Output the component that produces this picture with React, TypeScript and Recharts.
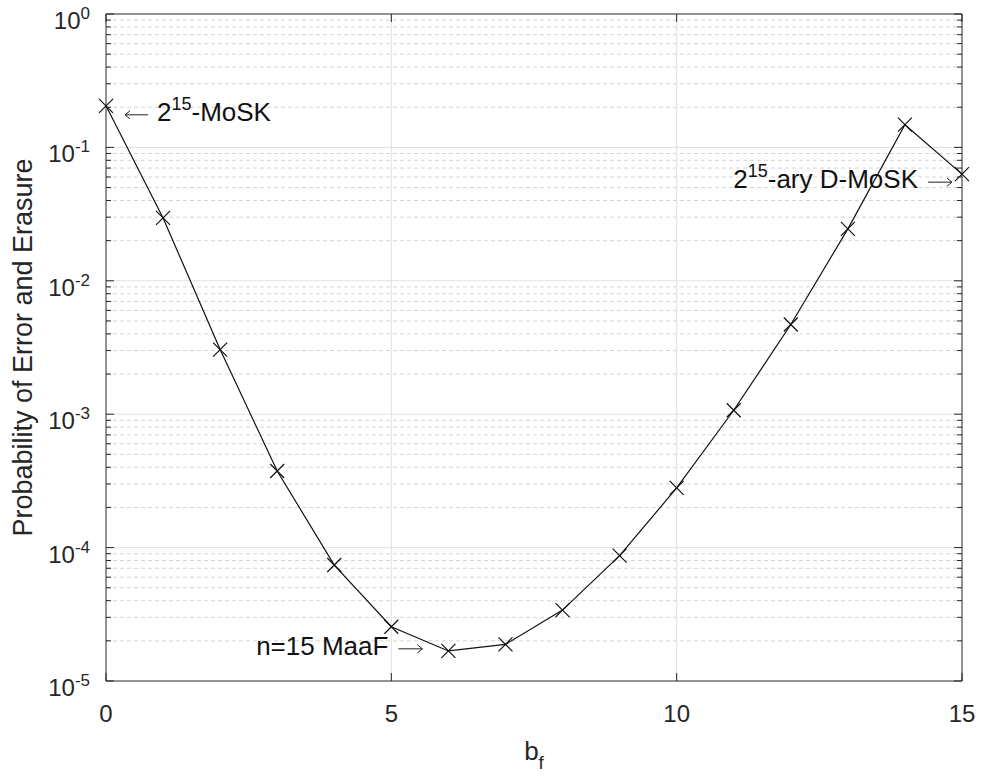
import React from 'react';
import { LineChart, Line, XAxis, YAxis, ReferenceLine, ReferenceDot } from 'recharts';

// b_f values and the probability of error and erasure
const bf = [0, 1, 2, 3, 4, 5, 6, 7, 8, 9, 10, 11, 12, 13, 14, 15];
const pErr = [0.205, 0.0296, 0.00305, 3.75e-4, 7.4e-5, 2.55e-5, 1.68e-5, 1.88e-5, 3.4e-5, 8.7e-5, 2.8e-4, 1.07e-3, 4.7e-3, 0.0245, 0.148, 0.063];

const xTicks = [0, 5, 10, 15];
const yMajor = [1, 1e-1, 1e-2, 1e-3, 1e-4, 1e-5];
const yMinor: number[] = [];
for (let k = -5; k < 0; k++) for (let m = 2; m <= 9; m++) yMinor.push(m * Math.pow(10, k));

const notes = [
  { x: 0, y: 0.205, text: '-MoSK', pre: '2', sup: '15', side: 'right' },
  { x: 15, y: 0.063, text: '-ary D-MoSK', pre: '2', sup: '15', side: 'left' },
  { x: 5.72, y: 2.0e-5, text: 'n=15 MaaF', pre: '', sup: '', side: 'left' },
];

const data = bf.map((b, i) => ({ bf: b, p: pErr[i] }));

const PL = 106, PR = 962, PT = 14, PB = 681;
const AX = '#262626';
const FONT = '"Liberation Sans", Arial, Helvetica, sans-serif';

const isMajor = (v: number) => Math.abs(Math.log10(v) - Math.round(Math.log10(v))) < 1e-9;

const YTick = (props: any) => {
  const { y, payload } = props;
  const v = payload.value;
  const major = isMajor(v);
  const len = major ? 8 : 5;
  return (
    <g>
      <line x1={PL} x2={PL + len} y1={y} y2={y} stroke={AX} strokeWidth={1} />
      <line x1={PR - len} x2={PR} y1={y} y2={y} stroke={AX} strokeWidth={1} />
      {major && (
        <text x={PL - 16} y={y + 15} textAnchor="end" fontFamily={FONT} fontSize={24} fill={AX}>
          10<tspan dy={-10} fontSize={17}>{String(Math.round(Math.log10(v)))}</tspan>
        </text>
      )}
    </g>
  );
};

const XTick = (props: any) => {
  const { x, payload } = props;
  return (
    <g>
      <line x1={x} x2={x} y1={PB} y2={PB - 8} stroke={AX} strokeWidth={1} />
      <line x1={x} x2={x} y1={PT} y2={PT + 8} stroke={AX} strokeWidth={1} />
      <text x={x} y={PB + 41} textAnchor="middle" fontFamily={FONT} fontSize={24} fill={AX}>{payload.value}</text>
    </g>
  );
};

const Cross = (props: any) => {
  const { cx, cy, index } = props;
  const s = 7;
  return (
    <path key={'c' + index} d={`M${cx - s},${cy - s}L${cx + s},${cy + s}M${cx - s},${cy + s}L${cx + s},${cy - s}`}
      stroke="#111" strokeWidth={1.2} fill="none" />
  );
};

const arrow = (x1: number, x2: number, y: number, headLeft: boolean) => {
  const hx = headLeft ? x1 : x2;
  const d = headLeft ? 5 : -5;
  return (
    <path d={`M${x1},${y}L${x2},${y}M${hx + d},${y - 4}L${hx},${y}L${hx + d},${y + 4}`}
      stroke="#222" strokeWidth={1} fill="none" />
  );
};

const Note = (n: typeof notes[number]) => (props: any) => {
  const { cx, cy } = props;
  if (n.side === 'right') {
    return (
      <g>
        {arrow(cx + 19, cx + 42, cy + 9, true)}
        <text x={cx + 51} y={cy + 15} fontFamily={FONT} fontSize={26} fill="#111">
          {n.pre}<tspan dy={-11} fontSize={18}>{n.sup}</tspan><tspan dy={11}>{n.text}</tspan>
        </text>
      </g>
    );
  }
  return (
    <g>
      {arrow(cx - 34, cx - 10, cy + 8, false)}
      <text x={cx - 44} y={cy + 14} textAnchor="end" fontFamily={FONT} fontSize={26} fill="#111">
        {n.pre}{n.sup && <tspan dy={-11} fontSize={18}>{n.sup}</tspan>}<tspan dy={n.sup ? 11 : 0}>{n.text}</tspan>
      </text>
    </g>
  );
};

export default function App() {
  return (
    <div style={{ position: 'absolute', left: 0, top: 0, background: '#fff' }}>
      <LineChart width={982} height={778} data={data} margin={{ top: PT, right: 982 - PR, left: 0, bottom: 0 }}>
        {yMinor.map(v => (
          <ReferenceLine key={'m' + v} y={v} stroke="#d4d4d4" strokeDasharray="4 3" strokeWidth={1} />
        ))}
        {yMajor.slice(1, -1).map(v => (
          <ReferenceLine key={'M' + v} y={v} stroke="#e0e0e0" strokeWidth={1} />
        ))}
        {xTicks.slice(1, -1).map(v => (
          <ReferenceLine key={'x' + v} x={v} stroke="#e0e0e0" strokeWidth={1} />
        ))}
        <ReferenceLine y={1} stroke={AX} strokeWidth={1} />
        <ReferenceLine x={15} stroke={AX} strokeWidth={1} />
        <XAxis dataKey="bf" type="number" domain={[0, 15]} ticks={xTicks} interval={0} height={97}
          tickLine={false} axisLine={{ stroke: AX }} tick={<XTick />}
          label={{ content: () => (
            <text x={(PL + PR) / 2} y={760} textAnchor="middle" fontFamily={FONT} fontSize={26} fill={AX}>
              b<tspan dy={9} fontSize={19}>f</tspan>
            </text>
          ) }} />
        <YAxis scale="log" domain={[1e-5, 1]} allowDataOverflow ticks={[...yMajor, ...yMinor]} interval={0} width={PL}
          tickLine={false} axisLine={{ stroke: AX }} tick={<YTick />}
          label={{ content: () => (
            <text x={0} y={0} transform={`translate(32, ${(PT + PB) / 2}) rotate(-90)`} textAnchor="middle"
              fontFamily={FONT} fontSize={27} fill={AX}>Probability of Error and Erasure</text>
          ) }} />
        <Line type="linear" dataKey="p" stroke="#111" strokeWidth={1.2} dot={<Cross />} activeDot={false}
          isAnimationActive={false} />
        {notes.map((n, i) => (
          <ReferenceDot key={'n' + i} x={n.x} y={n.y} r={0} ifOverflow="visible" shape={Note(n)} />
        ))}
      </LineChart>
    </div>
  );
}
